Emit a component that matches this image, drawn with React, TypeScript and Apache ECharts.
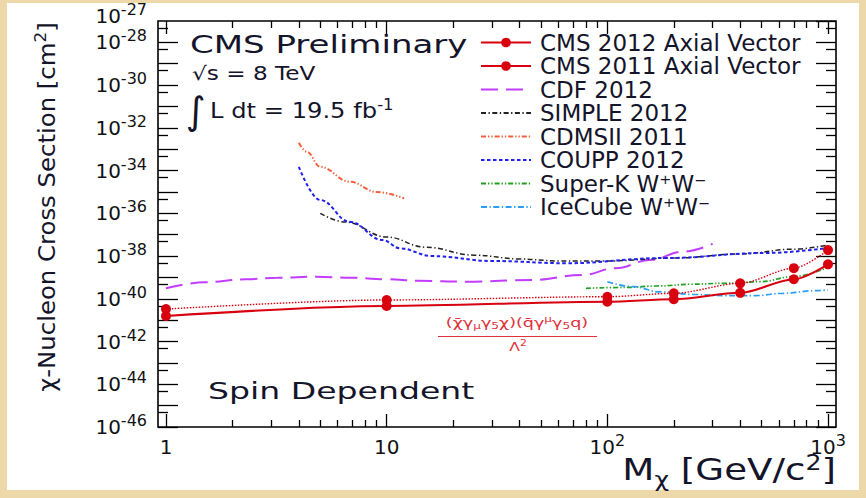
import React, { useEffect, useRef } from "react";
import * as echarts from "echarts";

// ---------------- data ----------------
const cmsMass = [1, 10, 100, 200, 400, 700, 1000];
const cms2012Sigma = [1.56e-41, 4.6e-41, 7.3e-41, 9.5e-41, 1.9e-40, 8.2e-40, 4.1e-39];
const cms2011Sigma = [3.3e-41, 8.8e-41, 1.25e-40, 1.8e-40, 5.3e-40, 2.7e-39, 1.9e-38];

const cdfMass = [1, 1.5, 2.3, 3.2, 4.8, 6.8, 10, 14, 23, 46, 77, 109, 156, 220, 300];
const cdfSigma = [3.1e-40, 5.9e-40, 8.2e-40, 9.7e-40, 1.08e-39, 9.7e-40, 8.2e-40, 7.0e-40, 6.3e-40, 7.6e-40, 1.3e-39, 2.7e-39, 6.5e-39, 1.6e-38, 3.7e-38];

const simpleMass = [5, 6.5, 10, 15, 25, 40, 60, 100, 200, 400, 700, 1000];
const simpleSigma = [1.0e-36, 3.9e-37, 7.8e-38, 2.6e-38, 1.1e-38, 7.3e-39, 5.9e-39, 5.9e-39, 8.1e-39, 1.25e-38, 2.1e-38, 3.3e-38];

const cdmsMass = [4, 4.35, 5, 6.8, 9, 12];
const cdmsSigma = [2e-33, 7.6e-34, 1.5e-34, 3e-35, 1e-35, 5e-36];

const couppMass = [4, 5, 6.8, 9.6, 11.5, 16, 30, 65, 184, 526, 1000];
const couppSigma = [1.5e-34, 4.2e-36, 4.0e-37, 5.6e-38, 2.3e-38, 1.0e-38, 5.9e-39, 4.6e-39, 8.1e-39, 1.4e-38, 2.4e-38];

const superKMass = [80, 121, 170, 239, 338, 491, 693, 1000];
const superKSigma = [3.1e-40, 3.4e-40, 4.0e-40, 4.8e-40, 5.3e-40, 6.3e-40, 1.08e-39, 3.0e-39];

const iceCubeMass = [100, 131, 173, 244, 341, 467, 625, 881, 1000];
const iceCubeSigma = [6.3e-40, 3.7e-40, 2.1e-40, 1.6e-40, 1.4e-40, 1.4e-40, 1.8e-40, 2.4e-40, 2.6e-40];

// axis ranges (decimal exponents) and tick labels
const xExpMin = 0;
const xExpMax = 3;
const yExpMin = -46;
const yExpMax = -27;
const yLabelExponents = [-46, -44, -42, -40, -38, -36, -34, -32, -30, -28];
const yTopLabelExponents = [-27];
const xMinorFactors = [2, 3, 4, 5, 6, 7, 8, 9];
const yMinorFactor = 0.47;

const FONT = "'DejaVu Sans', 'Liberation Sans', sans-serif";
const TXT = "#14142a";
const RED = "#d8000f";

const toLog = (mass: number[], sigma: number[]) =>
  mass.map((m, i) => [Math.log10(m), Math.log10(sigma[i])]);

export default function App() {
  const ref = useRef<HTMLDivElement>(null);

  useEffect(() => {
    if (!ref.current) return;
    const chart = echarts.init(ref.current, undefined, { renderer: "svg" });

    const xMinor: number[] = [];
    for (let d = xExpMin; d < xExpMax; d++) xMinorFactors.forEach((k) => xMinor.push(d + Math.log10(k)));
    const yMinor: number[] = [];
    for (let e = yExpMin + 1; e <= yExpMax; e++) yMinor.push(e + Math.log10(yMinorFactor));

    const tickStyle = { color: "#000", width: 1.3 };
    const labelRich = {
      b: { fontFamily: FONT, fontSize: 20, lineHeight: 20, color: "#111" },
      s: { fontFamily: FONT, fontSize: 16, lineHeight: 16, color: "#111", padding: [0, 0, 13, 0] },
    };
    const xLabel = (v: number) => {
      const e = Math.round(v);
      if (e === 0) return "{b|1}";
      if (e === 1) return "{b|10}";
      return `{b|10}{s|${e}}`;
    };
    const yLabel = (v: number) => {
      const e = Math.round(v);
      return yLabelExponents.includes(e) || yTopLabelExponents.includes(e) ? `{b|10}{s|${e}}` : "";
    };

    const baseX = (position: string) => ({
      type: "value",
      min: xExpMin,
      max: xExpMax,
      position,
      axisLine: { show: false, onZero: false },
      splitLine: { show: false },
    });
    const baseY = (position: string) => ({
      type: "value",
      min: yExpMin,
      max: yExpMax,
      position,
      offset: 8,
      axisLine: { show: false, onZero: false },
      splitLine: { show: false },
    });

    const xAxis = [
      {
        ...baseX("bottom"),
        interval: 1,
        axisTick: { show: true, inside: true, length: 13, lineStyle: tickStyle },
        axisLabel: { show: true, margin: 10, formatter: xLabel, rich: labelRich, showMinLabel: true, showMaxLabel: true },
      },
      {
        ...baseX("bottom"),
        axisTick: { show: true, inside: true, length: 7, customValues: xMinor, lineStyle: tickStyle },
        axisLabel: { show: false },
      },
      {
        ...baseX("top"),
        interval: 1,
        axisTick: { show: true, inside: true, length: 13, lineStyle: tickStyle },
        axisLabel: { show: false },
      },
      {
        ...baseX("top"),
        axisTick: { show: true, inside: true, length: 7, customValues: xMinor, lineStyle: tickStyle },
        axisLabel: { show: false },
      },
    ];
    const yAxis = [
      {
        ...baseY("left"),
        interval: 1,
        axisTick: { show: true, inside: true, length: 20, lineStyle: tickStyle },
        axisLabel: {
          show: true,
          margin: 11,
          formatter: (v: number) => (yLabelExponents.includes(Math.round(v)) ? yLabel(v) : ""),
          rich: labelRich,
          showMinLabel: true,
          showMaxLabel: false,
        },
      },
      {
        ...baseY("left"),
        axisTick: { show: true, inside: true, length: 10, customValues: yMinor, lineStyle: tickStyle },
        axisLabel: {
          show: true,
          margin: 11,
          customValues: yTopLabelExponents,
          formatter: yLabel,
          rich: labelRich,
          padding: [0, 0, 10, 0],
        },
      },
      {
        ...baseY("right"),
        interval: 1,
        axisTick: { show: true, inside: true, length: 20, lineStyle: tickStyle },
        axisLabel: { show: false },
      },
      {
        ...baseY("right"),
        axisTick: { show: true, inside: true, length: 10, customValues: yMinor, lineStyle: tickStyle },
        axisLabel: { show: false },
      },
    ];

    const curve = (name: string, mass: number[], sigma: number[], color: string, width: number, dash: any) => ({
      name,
      type: "line",
      data: toLog(mass, sigma),
      symbol: "none",
      smooth: 0.4,
      smoothMonotone: "x",
      silent: true,
      lineStyle: { color, width, type: dash },
      itemStyle: { color },
      z: 3,
    });

    const series = [
      curve("CDF 2012", cdfMass, cdfSigma, "#c23cff", 2, [17, 8]),
      curve("SIMPLE 2012", simpleMass, simpleSigma, "#222222", 1.5, [5, 2.5, 1.3, 2.5]),
      curve("CDMSII 2011", cdmsMass, cdmsSigma, "#f4603c", 2, [5, 2, 1.3, 2, 1.3, 2]),
      curve("COUPP 2012", couppMass, couppSigma, "#2020f0", 2, [3.5, 2.5]),
      curve("Super-K W⁺W⁻", superKMass, superKSigma, "#1fa01f", 1.7, [5, 2, 1.3, 2, 1.3, 2]),
      curve("IceCube W⁺W⁻", iceCubeMass, iceCubeSigma, "#2a9df4", 1.7, [6, 2.5, 1.3, 2.5]),
      {
        name: "CMS 2011 Axial Vector",
        type: "line",
        data: toLog(cmsMass, cms2011Sigma),
        symbol: "circle",
        symbolSize: 10,
        smooth: 0.3,
        smoothMonotone: "x",
        silent: true,
        lineStyle: { color: RED, width: 1.4, type: [1.5, 1.5] },
        itemStyle: { color: RED },
        z: 5,
      },
      {
        name: "CMS 2012 Axial Vector",
        type: "line",
        data: toLog(cmsMass, cms2012Sigma),
        symbol: "circle",
        symbolSize: 10,
        smooth: 0.3,
        smoothMonotone: "x",
        silent: true,
        lineStyle: { color: RED, width: 2 },
        itemStyle: { color: RED },
        z: 6,
      },
    ];

    const legendNames = [
      "CMS 2012 Axial Vector",
      "CMS 2011 Axial Vector",
      "CDF 2012",
      "SIMPLE 2012",
      "CDMSII 2011",
      "COUPP 2012",
      "Super-K W⁺W⁻",
      "IceCube W⁺W⁻",
    ];
    const cmsNames = ["CMS 2012 Axial Vector", "CMS 2011 Axial Vector"];

    const txt = (x: number, y: number, text: string, fontSize: number, scaleX: number, extra: any = {}) => ({
      type: "text",
      x,
      y,
      scaleX,
      z: 100,
      silent: true,
      style: {
        text,
        fontFamily: FONT,
        fontSize,
        fill: TXT,
        align: "left",
        verticalAlign: "middle",
        ...extra,
      },
    });

    const formulaRich = {
      t: { fontFamily: FONT, fontSize: 13, lineHeight: 13, fill: "#e0303a" },
      sb: { fontFamily: FONT, fontSize: 9, lineHeight: 9, fill: "#e0303a", padding: [7, 0, 0, 0] },
      sp: { fontFamily: FONT, fontSize: 9, lineHeight: 9, fill: "#e0303a", padding: [0, 0, 7, 0] },
    };

    const graphics: any[] = [
      {
        type: "rect",
        z: 90,
        silent: true,
        shape: { x: 158, y: 21, width: 678, height: 406 },
        style: { fill: "none", stroke: "#000", lineWidth: 1.6 },
      },
      txt(190, 44, "CMS Preliminary", 25, 1.36),
      txt(192, 73, "√s = 8 TeV", 19, 1.22),
      txt(196, 111, "∫", 38, 1, { align: "center" }),
      txt(210, 110, "{t|L dt = 19.5 fb}{s|-1}", 22, 1.1, {
        rich: {
          t: { fontFamily: FONT, fontSize: 22, lineHeight: 22, fill: TXT },
          s: { fontFamily: FONT, fontSize: 15, lineHeight: 15, fill: TXT, padding: [0, 0, 10, 0] },
        },
      }),
      txt(208, 391, "Spin Dependent", 23, 1.44),
      txt(517, 323, "{t|(χ̄γ}{sb|μ}{t|γ}{sb|5}{t|χ)(q̄γ}{sp|μ}{t|γ}{sb|5}{t|q)}", 13, 1.35, {
        align: "center",
        rich: formulaRich,
      }),
      {
        type: "line",
        z: 100,
        silent: true,
        shape: { x1: 438, y1: 336.5, x2: 597, y2: 336.5 },
        style: { stroke: "#e0303a", lineWidth: 1.2 },
      },
      txt(518, 346, "{t|Λ}{sp|2}", 13, 1.2, { align: "center", rich: formulaRich }),
      txt(836, 469, "{t|M}{sub|χ}{t| [GeV/c}{sup|2}{t|]}", 31, 1.2, {
        align: "right",
        rich: {
          t: { fontFamily: FONT, fontSize: 31, lineHeight: 31, fill: TXT },
          sub: { fontFamily: FONT, fontSize: 21, lineHeight: 21, fill: TXT, padding: [20, 0, 0, 0] },
          sup: { fontFamily: FONT, fontSize: 21, lineHeight: 21, fill: TXT, padding: [0, 0, 14, 0] },
        },
      }),
      {
        ...txt(47, 207, "{t|χ-Nucleon Cross Section [cm}{s|2}{t|]}", 23, 1.06, {
          align: "center",
          rich: {
            t: { fontFamily: FONT, fontSize: 23, lineHeight: 23, fill: TXT },
            s: { fontFamily: FONT, fontSize: 16, lineHeight: 16, fill: TXT, padding: [0, 0, 12, 0] },
          },
        }),
        rotation: Math.PI / 2,
      },
    ];

    chart.setOption({
      animation: false,
      backgroundColor: "transparent",
      grid: { left: 166, right: 38, top: 21, bottom: 71, containLabel: false },
      xAxis,
      yAxis,
      legend: {
        orient: "vertical",
        left: 475,
        top: 26,
        itemWidth: 50,
        itemHeight: 12,
        itemGap: 0.5,
        selectedMode: false,
        textStyle: { fontFamily: FONT, fontSize: 23, lineHeight: 23, color: TXT, padding: [0, 0, 0, 4] },
        data: legendNames.map((n) => {
          if (n === "CMS 2011 Axial Vector") return { name: n, lineStyle: { type: "solid", width: 2 } };
          if (cmsNames.includes(n)) return { name: n };
          return { name: n, itemStyle: { opacity: 0 } };
        }),
      },
      series,
      graphic: { elements: graphics },
    });

    return () => chart.dispose();
  }, []);

  return (
    <div
      style={{
        position: "fixed",
        left: 0,
        top: 0,
        width: 866,
        height: 498,
        overflow: "hidden",
        background: "#ecd8a8",
      }}
    >
      <div style={{ position: "absolute", left: 7, top: 3, width: 852, height: 487, background: "#ffffff" }} />
      <div ref={ref} style={{ position: "absolute", left: 0, top: 0, width: 866, height: 498 }} />
    </div>
  );
}
